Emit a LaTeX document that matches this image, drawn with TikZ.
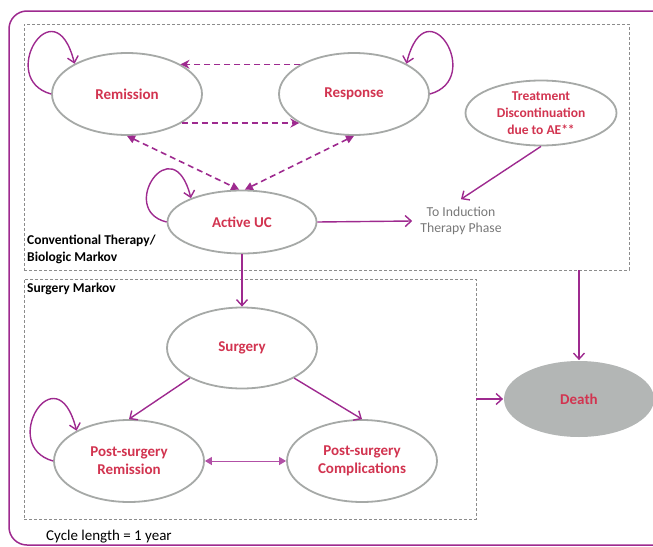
\documentclass[tikz,border=0pt]{standalone}
\usepackage{fontspec}
\setmainfont{Carlito}
\usetikzlibrary{arrows.meta,shapes.geometric}

\definecolor{trans}{RGB}{158,42,143}
\definecolor{translight}{RGB}{178,80,166}
\definecolor{statetext}{RGB}{210,52,80}
\definecolor{stateedge}{RGB}{166,169,167}
\definecolor{deadfill}{RGB}{179,182,181}
\definecolor{boxedge}{RGB}{140,140,140}
\definecolor{notetext}{RGB}{120,120,120}

\tikzset{
  state/.style={ellipse, draw=stateedge, line width=1.8pt, fill=white,
    minimum width=150pt, minimum height=82pt, inner sep=0pt,
    text=statetext, align=center, font=\bfseries\fontsize{15}{18}\selectfont},
  groupbox/.style={draw=boxedge, line width=0.7pt, dash pattern=on 3pt off 2pt,
    inner sep=0pt},
  grouplabel/.style={anchor=north west, inner sep=0pt, align=left,
    font=\bfseries\fontsize{13.5}{17.3}\selectfont},
  move/.style={color=trans, line width=1.4pt,
    -{Straight Barb[length=6pt,width=11pt]}},
  selfloop/.style={move},
  dmove/.style={color=trans, line width=1.6pt, dash pattern=on 6pt off 4pt},
  dhead/.style={-{Stealth[length=9pt,width=9pt,inset=3pt]}},
  dtri/.style={{Triangle[length=8pt,width=8pt]}-{Triangle[length=8pt,width=8pt]}},
}

\begin{document}
\begin{tikzpicture}[x=1pt,y=-1pt]
\path[use as bounding box, clip] (0,0) rectangle (653,546);

% outer frame of the whole model
\draw[trans, line width=1.5pt, rounded corners=18pt] (9,11) rectangle (690,545);

% sub-model boxes
\node[groupbox, minimum width=605pt, minimum height=246pt] (cvbox) at (326.5,147) {};
\node[groupbox, minimum width=452pt, minimum height=240pt] (sgbox) at (250,399) {};

\node[grouplabel] (cvlabel) at (27,235) {Conventional Therapy/\\Biologic Markov};
\node[grouplabel] (sglabel) at (27,283) {Surgery Markov};

% health states
\node[state] (rem) at (127,94) {Remission};
\node[state] (rsp) at (354,94) {Response};
\node[state, minimum width=151pt, minimum height=65pt,
      font=\bfseries\fontsize{13.5}{17}\selectfont] (tdc) at (541,113)
      {Treatment\\Discontinuation\\due to AE**};
\node[state, minimum width=149pt, minimum height=63pt] (auc) at (242,222) {Active UC};
\node[state, minimum height=81pt] (srg) at (242,348) {Surgery};
\node[state] (psr) at (129,461) {Post-surgery\\Remission};
\node[state] (psc) at (362,461) {Post-surgery\\Complications};
\node[state, fill=deadfill, draw=none, minimum height=76pt] (death) at (579,399) {Death};

\node[inner sep=8pt, align=center, text=notetext,
      font=\fontsize{13.7}{15.5}\selectfont] (ind) at (461,221)
      {To Induction\\Therapy Phase};

\node[anchor=west, inner sep=0pt, font=\fontsize{15}{18}\selectfont] (cycle) at (46,537)
      {Cycle length = 1 year};

% transitions between conventional/biologic states
\draw[dmove, dhead] (rsp.151) -- (rem.29);
\draw[dmove, dhead] (rem.-28) -- (rsp.208);
\draw[dmove, dtri] (rem.south) -- (auc.95);
\draw[dmove, dtri] (rsp.south) -- (auc.85);

% staying in the same state
\draw[selfloop] (rem.180) .. controls +(-55,-15) and +(-20,-80) .. (rem.150);
\draw[selfloop] (rsp.0) .. controls +(55,-15) and +(20,-80) .. (rsp.30);
\draw[selfloop] (auc.180) .. controls +(-50,-12) and +(-18,-72) .. (auc.155);
\draw[selfloop] (psr.180) .. controls +(-55,-15) and +(-20,-80) .. (psr.150);

% exits
\draw[move] (auc.east) -- (ind.west);
\draw[move] (tdc.south) -- (ind.north);
\draw[move] (auc.south) -- (srg.north);
\draw[move] (cvbox.south -| death.north) -- (death.north);
\draw[move] (sgbox.east |- death.west) -- (death.west);

% surgery sub-model
\draw[move] (srg.210) -- (psr.north);
\draw[move] (srg.-30) -- (psc.north);
\draw[color=translight, line width=1pt,
      {Triangle[length=7pt,width=8pt]}-{Triangle[length=7pt,width=8pt]}]
      (psr.east) -- (psc.west);
\end{tikzpicture}
\end{document}
